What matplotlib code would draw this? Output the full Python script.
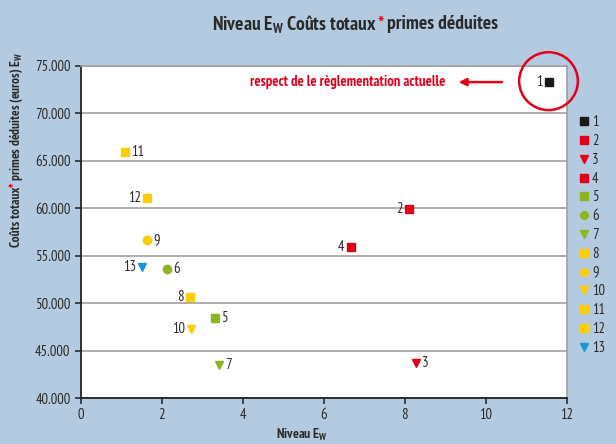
import matplotlib
matplotlib.use('Agg')
import matplotlib.pyplot as plt
from matplotlib.lines import Line2D
from matplotlib.patches import Ellipse

plt.rcParams['font.family'] = ['PT Sans Narrow', 'DejaVu Sans']

# data
ids = ['1', '2', '3', '4', '5', '6', '7', '8', '9', '10', '11', '12', '13']
niveau = [11.56, 8.1, 8.28, 6.67, 3.3, 2.13, 3.4, 2.7, 1.64, 2.72, 1.09, 1.64, 1.51]
couts = [73350, 59900, 43700, 55900, 48400, 53600, 43500, 50600, 56650, 47300, 65900, 61100, 53850]
markers = ['s', 's', 'v', 's', 's', 'o', 'v', 's', 'o', 'v', 's', 's', 'v']
colors = ['#1a1a1a', '#e2001a', '#e2001a', '#e2001a', '#8cb520', '#8cb520', '#8cb520',
          '#ffcc00', '#ffcc00', '#ffcc00', '#ffcc00', '#ffcc00', '#1a96d4']
label_side = ['l', 'l', 'r', 'l', 'r', 'r', 'r', 'l', 'r', 'l', 'r', 'l', 'l']

bg = '#b4cae0'
red = '#e2001a'
dark = '#2a2a2a'

fig = plt.figure(figsize=(6.16, 4.44), dpi=100, facecolor=bg)
ax = fig.add_axes([0.1315, 0.1036, 0.7885, 0.7478])
ax.set_facecolor('white')

for x, y, m, c, t, s in zip(niveau, couts, markers, colors, ids, label_side):
    ax.plot(x, y, marker=m, color=c, markersize=6, linestyle='none', zorder=3)
    if s == 'r':
        ax.annotate(t, (x, y), xytext=(4.5, 0), textcoords='offset points',
                    ha='left', va='center', fontsize=10.5, color=dark)
    else:
        ax.annotate(t, (x, y), xytext=(-4.5, 0), textcoords='offset points',
                    ha='right', va='center', fontsize=10.5, color=dark)

ax.set_xlim(0, 12)
ax.set_ylim(40000, 75000)
ax.set_xticks(range(0, 13, 2))
ax.set_yticks(range(40000, 75001, 5000))
ax.set_yticklabels(['%d.000' % (v // 1000) for v in range(40000, 75001, 5000)])
ax.yaxis.grid(True, color='#a0a0a0', linewidth=1.2)
ax.set_axisbelow(True)
ax.tick_params(labelsize=10.5, colors=dark, length=4, width=1.2)
for side in ['left', 'bottom']:
    ax.spines[side].set_color('#222222')
    ax.spines[side].set_linewidth(1.3)
for side in ['top', 'right']:
    ax.spines[side].set_color('#a0a0a0')
    ax.spines[side].set_linewidth(1.2)

# annotation for point 1
ax.text(8.99, 73300, 'respect de le règlementation actuelle', color=red,
        fontsize=10.5, fontweight='bold', ha='right', va='center')
ax.annotate('', xy=(9.33, 73300), xytext=(10.4, 73300),
            arrowprops=dict(arrowstyle='-|>', color=red, lw=1.8, mutation_scale=11,
                            shrinkA=0, shrinkB=0))
ax.add_patch(Ellipse((11.55, 73400), 1.45, 6100, fill=False, edgecolor=red,
                     linewidth=1.8, clip_on=False, zorder=4))

# legend
handles = [Line2D([], [], marker=m, color=c, linestyle='none', markersize=5.5)
           for m, c in zip(markers, colors)]
fig.legend(handles, ids, loc='upper left', bbox_to_anchor=(0.921, 0.757),
           frameon=False, fontsize=10.5, handletextpad=-0.1, labelspacing=0.33,
           borderpad=0, handlelength=1.3, labelcolor=dark)

# multi-coloured texts
fig.canvas.draw()
renderer = fig.canvas.get_renderer()

def pieces(parts, x, y, rotation=0, **kw):
    objs = []
    for s, c in parts:
        t = fig.text(x, y, s, color=c, rotation=rotation, **kw)
        objs.append(t)
        bb = t.get_window_extent(renderer).transformed(fig.transFigure.inverted())
        if rotation == 0:
            x = bb.x1
        else:
            y = bb.y1
    return objs

title = pieces([('Niveau E$_\\mathregular{W}$ Coûts totaux', dark), ('*', red),
                (' primes déduites', dark)], 0, 0.945, ha='left', va='center',
               fontsize=14, fontweight='bold')
bbs = [t.get_window_extent(renderer).transformed(fig.transFigure.inverted()) for t in title]
w = bbs[-1].x1 - bbs[0].x0
shift = 0.577 - w / 2
for t in title:
    px, py = t.get_position()
    t.set_position((px + shift, py))

ylab = pieces([('Coûts totaux', dark), ('*', red),
               (' primes déduites (euros) E$_\\mathregular{W}$', dark)],
              0.027, 0, rotation=90, ha='center', va='bottom',
              fontsize=9.5, fontweight='bold')
bbs = [t.get_window_extent(renderer).transformed(fig.transFigure.inverted()) for t in ylab]
h = bbs[-1].y1 - bbs[0].y0
shift = 0.663 - h / 2
for t in ylab:
    px, py = t.get_position()
    t.set_position((px, py + shift))

fig.text(0.49, 0.003, 'Niveau E$_\\mathregular{W}$', color=dark, fontsize=10,
         fontweight='bold', ha='center', va='bottom')

fig.savefig('out.png', dpi=100, facecolor=bg)
